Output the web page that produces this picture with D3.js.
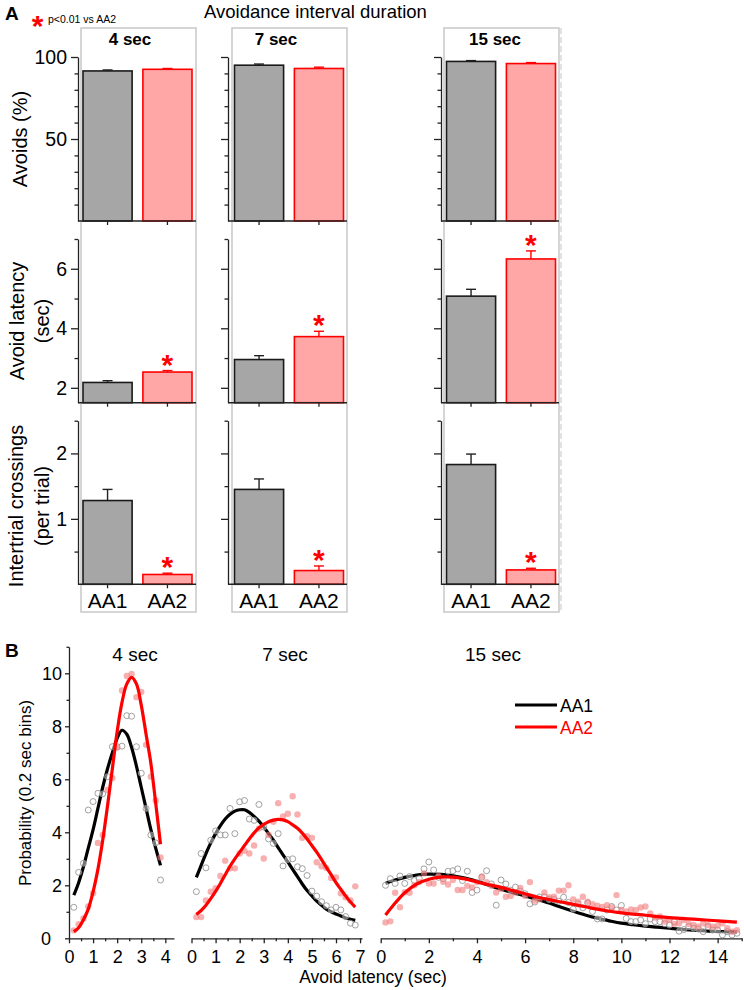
<!DOCTYPE html>
<html><head><meta charset="utf-8">
<script src="https://cdn.jsdelivr.net/npm/d3@7"></script>
<style>body{margin:0;background:#fff}svg{display:block}text{font-family:"Liberation Sans",Arial,sans-serif}</style>
</head><body><svg id="c" width="744" height="990"></svg>
<script>
// ---------- DATA: panel A ----------
const durations = ["4 sec", "7 sec", "15 sec"];
const groups = ["AA1", "AA2"];
const avoidsAA1 = [91.5, 95.0, 97.3];
const avoidsAA1Err = [0.6, 0.7, 0.5];
const avoidsAA2 = [92.5, 93.0, 96.0];
const avoidsAA2Err = [0.5, 0.8, 0.6];
const latencyAA1 = [2.18, 2.95, 5.08];
const latencyAA1Err = [0.06, 0.13, 0.23];
const latencyAA2 = [2.53, 3.72, 6.33];
const latencyAA2Err = [0.05, 0.18, 0.27];
const crossAA1 = [1.28, 1.45, 1.83];
const crossAA1Err = [0.17, 0.16, 0.16];
const crossAA2 = [0.15, 0.21, 0.22];
const crossAA2Err = [0.02, 0.07, 0.025];
const sigAvoids = [false, false, false];
const sigLatency = [true, true, true];
const sigCross = [true, true, true];
const avoidsTicks = [50, 100], avoidsMinor = [10, 20, 30, 40, 60, 70, 80, 90];
const latencyTicks = [2, 4, 6], latencyMinor = [3, 5, 7];
const crossTicks = [1, 2], crossMinor = [0.5, 1.5, 2.5];

// ---------- DATA: panel B (0.2 sec bins, first bin at 0.2) ----------
const binWidth = 0.2;
const b4AA1 = [1.17, 2.49, 2.83, 4.84, 5.16, 5.47, 5.45, 6.1, 7.23, 7.23, 7.25, 8.4, 8.38, 7.23, 6.23, 4.9, 3.9, 3.6, 2.2];
const b4AA2 = [0.3, 0.53, 0.75, 1.2, 1.7, 3.6, 3.9, 5.6, 6.05, 7.2, 9.35, 9.9, 9.98, 9.1, 9.3, 7.3, 6.1, 5.2, 3.05];
const b7AA1 = [1.76, 3.2, 2.66, 3.7, 4.05, 3.9, 3.9, 4.9, 3.95, 5.15, 5.2, 4.5, 4.45, 5.05, 4.2, 3.75, 3.58, 3.95, 2.73, 2.97, 3.0, 2.7, 2.63, 2.37, 1.78, 1.59, 1.38, 1.23, 1.07, 1.17, 1.07, 0.82, 0.57, 0.5];
const b7AA2 = [0.8, 0.8, 1.43, 1.76, 1.89, 2.35, 2.93, 2.64, 2.64, 3.2, 3.3, 3.2, 3.5, 4.14, 3.01, 3.9, 4.4, 5.1, 4.6, 4.7, 5.36, 4.67, 3.79, 3.85, 3.79, 2.87, 2.72, 2.65, 2.28, 2.3, 1.7, 1.55, 1.43, 1.96];
const b15AA1 = [2.0, 2.25, 2.07, 2.35, 2.07, 2.33, 2.18, 2.25, 2.62, 2.88, 2.58, 2.3, 2.25, 2.53, 2.55, 2.62, 2.18, 2.53, 1.73, 1.82, 2.3, 2.55, 2.05, 1.25, 2.2, 2.05, 1.82, 1.93, 1.78, 1.68, 1.3, 1.37, 1.56, 1.56, 1.46, 1.46, 1.4, 1.55, 1.35, 1.1, 1.3, 1.15, 1.33, 1.01, 0.73, 0.73, 1.07, 1.2, 1.07, 1.24, 0.75, 0.63, 0.63, 0.69, 0.55, 0.73, 0.63, 0.63, 0.55, 0.5, 0.63, 0.27, 0.33, 0.44, 0.38, 0.35, 0.25, 0.44, 0.31, 0.31, 0.13, 0.25, 0.13, 0.19];
const b15AA2 = [0.6, 0.64, 1.72, 1.17, 1.74, 1.72, 2.0, 2.12, 2.45, 2.07, 2.07, 2.35, 2.13, 2.03, 2.2, 1.82, 1.82, 1.98, 1.92, 2.12, 2.33, 2.12, 1.98, 1.73, 1.86, 1.57, 1.6, 1.73, 1.9, 1.6, 2.12, 1.42, 1.47, 1.73, 1.55, 1.57, 1.8, 1.8, 2.0, 1.47, 1.38, 1.57, 1.38, 1.29, 1.23, 1.18, 1.25, 1.16, 1.63, 1.07, 1.01, 1.09, 1.07, 1.16, 1.2, 0.94, 0.78, 0.82, 0.63, 0.69, 0.54, 0.57, 0.69, 0.54, 0.5, 0.44, 0.57, 0.5, 0.44, 0.47, 0.57, 0.38, 0.25, 0.31];
const fit4AA1 = [[0.2,1.63],[0.4,2.1],[0.6,2.7],[0.8,3.4],[1.0,4.1],[1.2,4.9],[1.4,5.7],[1.6,6.4],[1.8,7.0],[2.0,7.55],[2.2,7.85],[2.4,7.7],[2.6,7.2],[2.8,6.5],[3.0,5.7],[3.2,4.9],[3.4,4.1],[3.6,3.4],[3.8,2.75]];
const fit4AA2 = [[0.2,0.25],[0.4,0.4],[0.6,0.7],[0.8,1.1],[1.0,1.75],[1.2,2.6],[1.4,3.7],[1.6,5.0],[1.8,6.4],[2.0,7.8],[2.2,8.9],[2.4,9.6],[2.6,9.85],[2.8,9.6],[3.0,8.8],[3.2,7.7],[3.4,6.6],[3.6,5.1],[3.8,3.55]];
const fit7AA1 = [[0.2,2.3],[0.4,2.75],[0.6,3.2],[0.8,3.6],[1.0,3.95],[1.2,4.25],[1.4,4.5],[1.6,4.68],[1.8,4.8],[2.0,4.85],[2.2,4.85],[2.4,4.75],[2.6,4.6],[2.8,4.42],[3.0,4.2],[3.2,3.95],[3.4,3.7],[3.6,3.42],[3.8,3.15],[4.0,2.88],[4.2,2.6],[4.4,2.33],[4.6,2.05],[4.8,1.8],[5.0,1.6],[5.2,1.4],[5.4,1.25],[5.6,1.1],[5.8,1.0],[6.0,0.92],[6.2,0.84],[6.4,0.77],[6.6,0.72],[6.8,0.68]];
const fit7AA2 = [[0.2,0.9],[0.4,1.05],[0.6,1.25],[0.8,1.5],[1.0,1.77],[1.2,2.07],[1.4,2.4],[1.6,2.72],[1.8,3.0],[2.0,3.25],[2.2,3.5],[2.4,3.75],[2.6,3.98],[2.8,4.17],[3.0,4.3],[3.2,4.4],[3.4,4.46],[3.6,4.49],[3.8,4.47],[4.0,4.4],[4.2,4.28],[4.4,4.15],[4.6,3.97],[4.8,3.75],[5.0,3.5],[5.2,3.25],[5.4,2.97],[5.6,2.68],[5.8,2.4],[6.0,2.1],[6.2,1.85],[6.4,1.6],[6.6,1.37],[6.8,1.18]];
const fit15AA1 = [[0.2,2.07],[0.5,2.17],[1.0,2.3],[1.5,2.39],[2.0,2.42],[2.5,2.41],[3.0,2.36],[3.5,2.27],[4.0,2.15],[4.5,2.0],[5.0,1.85],[5.5,1.72],[6.0,1.6],[6.5,1.47],[7.0,1.33],[7.5,1.17],[8.0,1.02],[8.5,0.88],[9.0,0.76],[9.5,0.66],[10.0,0.57],[10.5,0.51],[11.0,0.46],[11.5,0.42],[12.0,0.38],[12.5,0.34],[13.0,0.31],[13.5,0.28],[14.0,0.26],[14.5,0.24],[14.8,0.23]];
const fit15AA2 = [[0.2,0.88],[0.5,1.22],[1.0,1.72],[1.5,2.05],[2.0,2.23],[2.5,2.31],[3.0,2.31],[3.5,2.24],[4.0,2.13],[4.5,2.02],[5.0,1.92],[5.5,1.8],[6.0,1.68],[6.5,1.56],[7.0,1.46],[7.5,1.37],[8.0,1.28],[8.5,1.19],[9.0,1.1],[9.5,1.02],[10.0,0.96],[10.5,0.91],[11.0,0.87],[11.5,0.82],[12.0,0.78],[12.5,0.75],[13.0,0.72],[13.5,0.69],[14.0,0.66],[14.5,0.63],[14.8,0.61]];
const bTitles = ["4 sec", "7 sec", "15 sec"];
const xTicks4 = [0,1,2,3,4], xMinor4 = [0.5,1.5,2.5,3.5];
const xTicks7 = [0,1,2,3,4,5,6,7], xMinor7 = [0.5,1.5,2.5,3.5,4.5,5.5,6.5];
const xTicks15 = [0,2,4,6,8,10,12,14], xMinor15 = [1,3,5,7,9,11,13,15];
const yTicksB = [0,2,4,6,8,10], yMinorB = [1,3,5,7,9,11];

// ---------- DRAW ----------
const svg = d3.select("#c");
const AX = "#222", GRAYFILL = "#a6a6a6", PINK = "#ffa6a6", RED = "#ff0000";
const FONT = '"Liberation Sans", Arial, sans-serif';
const fmt = d => String(d);

svg.append("text").attr("x", 5).attr("y", 20).attr("font-size", 19).attr("font-weight", "bold").text("A");
svg.append("text").attr("x", 37.5).attr("y", 36).attr("font-size", 30).attr("font-weight", "bold").attr("fill", RED).attr("text-anchor", "middle").text("*");
svg.append("text").attr("x", 48).attr("y", 23).attr("font-size", 10.5).text("p<0.01 vs AA2");
svg.append("text").attr("x", 204).attr("y", 18).attr("font-size", 18.5).text("Avoidance interval duration");

const axisXs = [78, 228, 441];
const barStart = [83, 234.5, 446.5];
const boxX = [81, 232, 444], boxW = 115, boxTop = 28, boxBottom = 612;
const titleX = [130, 276, 495];

// column frames
boxX.forEach((bx, c) => {
  svg.append("rect").attr("x", bx).attr("y", boxTop).attr("width", boxW).attr("height", boxBottom - boxTop)
    .attr("fill", "none").attr("stroke", "#c8c8c8").attr("stroke-width", 1.5);
  svg.append("text").attr("x", titleX[c]).attr("y", 45).attr("font-size", 17).attr("font-weight", "bold")
    .attr("text-anchor", "middle").text(durations[c]);
});
svg.append("line").attr("x1", 561).attr("x2", 561).attr("y1", boxTop).attr("y2", boxBottom)
  .attr("stroke", "#cfcfcf").attr("stroke-width", 1.2).attr("stroke-dasharray", "6,3");

const rows = [
  {dom: [0, 100], r: [221, 57], a1: avoidsAA1, e1: avoidsAA1Err, a2: avoidsAA2, e2: avoidsAA2Err, ticks: avoidsTicks, minor: avoidsMinor, sig: sigAvoids,
   label: ["Avoids (%)"], lx: [27], ly: 139},
  {dom: [1.5, 7], r: [402.7, 239], a1: latencyAA1, e1: latencyAA1Err, a2: latencyAA2, e2: latencyAA2Err, ticks: latencyTicks, minor: latencyMinor, sig: sigLatency,
   label: ["Avoid latency", "(sec)"], lx: [24, 49], ly: 321},
  {dom: [0, 2.5], r: [584.3, 420.7], a1: crossAA1, e1: crossAA1Err, a2: crossAA2, e2: crossAA2Err, ticks: crossTicks, minor: crossMinor, sig: sigCross,
   label: ["Intertrial crossings", "(per trial)"], lx: [23, 49], ly: 506}
];

rows.forEach((row, ri) => {
  const y = d3.scaleLinear().domain(row.dom).range(row.r);
  row.label.forEach((t, k) => {
    svg.append("text").attr("transform", `translate(${row.lx[k]},${row.ly}) rotate(-90)`)
      .attr("text-anchor", "middle").attr("font-size", 20).text(t);
  });
  durations.forEach((d, c) => {
    const g = svg.append("g");
    const x = d3.scaleBand().domain(groups).range([barStart[c], barStart[c] + 109]).paddingInner(0.18);
    // y axis
    const ya = g.append("g").attr("transform", `translate(${axisXs[c]},0)`)
      .call(d3.axisLeft(y).tickValues(row.ticks).tickFormat(fmt).tickSize(7).tickPadding(4).tickSizeOuter(0));
    ya.selectAll("text").attr("font-size", 19.5).attr("font-family", FONT).attr("fill", "#000");
    if (c > 0) ya.selectAll("text").remove();
    const ym = g.append("g").attr("transform", `translate(${axisXs[c]},0)`)
      .call(d3.axisLeft(y).tickValues(row.minor).tickSize(3.5).tickSizeOuter(0).tickFormat(""));
    ym.select(".domain").remove();
    g.selectAll(".domain, .tick line").attr("stroke", AX).attr("stroke-width", 1.3);
    // bars
    const vals = [{g: "AA1", v: row.a1[c], e: row.e1[c]}, {g: "AA2", v: row.a2[c], e: row.e2[c]}];
    vals.forEach(b => {
      const col = b.g === "AA1" ? AX : RED;
      g.append("line").attr("x1", x(b.g) + x.bandwidth() / 2).attr("x2", x(b.g) + x.bandwidth() / 2)
        .attr("y1", y(b.v)).attr("y2", y(b.v + b.e)).attr("stroke", col).attr("stroke-width", 1.4);
      g.append("line").attr("x1", x(b.g) + x.bandwidth() / 2 - 5).attr("x2", x(b.g) + x.bandwidth() / 2 + 5)
        .attr("y1", y(b.v + b.e)).attr("y2", y(b.v + b.e)).attr("stroke", col).attr("stroke-width", 1.4);
      g.append("rect").attr("x", x(b.g)).attr("y", y(b.v)).attr("width", x.bandwidth())
        .attr("height", y(row.dom[0]) - y(b.v))
        .attr("fill", b.g === "AA1" ? GRAYFILL : PINK).attr("stroke", b.g === "AA1" ? "#1a1a1a" : RED).attr("stroke-width", 1.6);
    });
    if (row.sig[c]) {
      g.append("text").attr("x", x("AA2") + x.bandwidth() / 2).attr("y", y(row.a2[c] + row.e2[c]) + 4)
        .attr("text-anchor", "middle").attr("font-size", 30).attr("font-weight", "bold").attr("fill", RED).text("*");
    }
    // x axis
    const xa = g.append("g").attr("transform", `translate(0,${y(row.dom[0])})`)
      .call(d3.axisBottom(x).tickSize(4).tickPadding(5).tickSizeOuter(0));
    xa.select(".domain").remove();
    xa.selectAll(".tick line").attr("stroke", AX).attr("stroke-width", 1.3);
    g.append("line").attr("x1", axisXs[c]).attr("x2", boxX[c] + boxW).attr("y1", y(row.dom[0])).attr("y2", y(row.dom[0]))
      .attr("stroke", AX).attr("stroke-width", 1.5);
    if (ri === 2) xa.selectAll("text").attr("font-size", 21).attr("font-family", FONT).attr("fill", "#000");
    else xa.selectAll("text").remove();
  });
});

// ---------- Panel B ----------
svg.append("text").attr("x", 5).attr("y", 657).attr("font-size", 19).attr("font-weight", "bold").text("B");
const yB = d3.scaleLinear().domain([0, 11]).range([938.3, 646.8]);
const subs = [
  {xmax: 4.36, xr: [69, 174], ticks: xTicks4, minor: xMinor4, a1: b4AA1, a2: b4AA2, f1: fit4AA1, f2: fit4AA2, tx: 135},
  {xmax: 7.08, xr: [191.5, 362], ticks: xTicks7, minor: xMinor7, a1: b7AA1, a2: b7AA2, f1: fit7AA1, f2: fit7AA2, tx: 285},
  {xmax: 15, xr: [380.7, 741.7], ticks: xTicks15, minor: xMinor15, a1: b15AA1, a2: b15AA2, f1: fit15AA1, f2: fit15AA2, tx: 493}
];
subs.forEach((s, i) => {
  const x = d3.scaleLinear().domain([0, s.xmax]).range(s.xr);
  const g = svg.append("g");
  const xa = g.append("g").attr("transform", `translate(0,${yB(0)})`)
    .call(d3.axisBottom(x).tickValues(s.ticks).tickFormat(fmt).tickSize(5).tickPadding(7).tickSizeOuter(0));
  xa.selectAll("text").attr("font-size", 18).attr("font-family", FONT).attr("fill", "#000");
  const xm = g.append("g").attr("transform", `translate(0,${yB(0)})`)
    .call(d3.axisBottom(x).tickValues(s.minor).tickSize(3).tickFormat(""));
  xm.select(".domain").remove();
  if (i === 0) {
    const ya = g.append("g").attr("transform", `translate(${s.xr[0]},0)`)
      .call(d3.axisLeft(yB).tickValues(yTicksB).tickFormat(fmt).tickSize(4).tickPadding(3).tickSizeOuter(0));
    ya.selectAll("text").attr("font-size", 18).attr("font-family", FONT).attr("fill", "#000");
    ya.selectAll(".tick text").filter(d => d === 0).attr("dx", -11);
    const ym = g.append("g").attr("transform", `translate(${s.xr[0]},0)`)
      .call(d3.axisLeft(yB).tickValues(yMinorB).tickSize(2.5).tickFormat(""));
    ym.select(".domain").remove();
  }
  g.selectAll(".domain, .tick line").attr("stroke", AX).attr("stroke-width", 1.3);
  const line = d3.line().x(d => x(d[0])).y(d => yB(d[1])).curve(d3.curveCatmullRom);
  g.append("path").attr("d", line(s.f1)).attr("fill", "none").attr("stroke", "#000").attr("stroke-width", 3.2);
  g.selectAll(".c1").data(s.a1).enter().append("circle")
    .attr("cx", (d, k) => x((k + 1) * binWidth)).attr("cy", d => yB(d)).attr("r", 3)
    .attr("fill", "#fff").attr("fill-opacity", 0.45).attr("stroke", "#8a8a8a").attr("stroke-width", 0.8);
  g.selectAll(".c2").data(s.a2).enter().append("circle")
    .attr("cx", (d, k) => x((k + 1) * binWidth)).attr("cy", d => yB(d)).attr("r", 3.2)
    .attr("fill", "#f27a7a").attr("fill-opacity", 0.6);
  g.append("path").attr("d", line(s.f2)).attr("fill", "none").attr("stroke", RED).attr("stroke-width", 3.2);
  svg.append("text").attr("x", s.tx).attr("y", 661).attr("text-anchor", "middle").attr("font-size", 19).text(bTitles[i]);
});
svg.append("text").attr("transform", "translate(31,793) rotate(-90)").attr("text-anchor", "middle")
  .attr("font-size", 17).text("Probability (0.2 sec bins)");
svg.append("text").attr("x", 373).attr("y", 983).attr("text-anchor", "middle").attr("font-size", 17.5).text("Avoid latency (sec)");
// legend
[["AA1", "#000", 705], ["AA2", RED, 727]].forEach(([t, c, yy]) => {
  svg.append("line").attr("x1", 515).attr("x2", 557).attr("y1", yy).attr("y2", yy).attr("stroke", c).attr("stroke-width", 3.2);
  svg.append("text").attr("x", 560).attr("y", yy + 6.5).attr("font-size", 17.5).attr("fill", c).text(t);
});
</script></body></html>
